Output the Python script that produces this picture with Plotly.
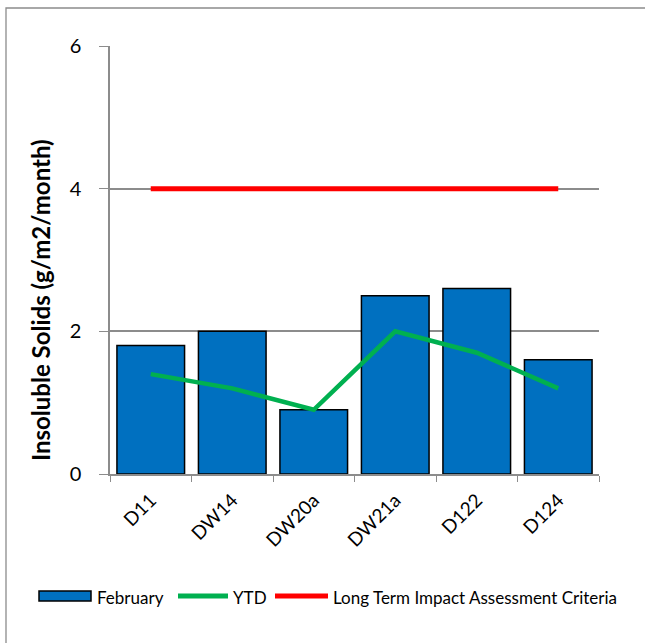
import plotly.graph_objects as go

categories = ["D11", "DW14", "DW20a", "DW21a", "D122", "D124"]
february = [1.8, 2.0, 0.9, 2.5, 2.6, 1.6]
ytd = [1.4, 1.2, 0.9, 2.0, 1.7, 1.2]
criteria = [4, 4, 4, 4, 4, 4]
y_ticks = [0, 2, 4, 6]

FONT = "Lato, 'Open Sans', sans-serif"
GRID = "#8C8C8C"
BLUE = "#0070C0"
GREEN = "#00B050"
RED = "#FF0000"

fig = go.Figure()
fig.add_trace(go.Bar(
    x=categories, y=february, name="February",
    marker=dict(color=BLUE, line=dict(color="black", width=1.5)),
    width=0.83,
))
fig.add_trace(go.Scatter(
    x=categories, y=ytd, name="YTD", mode="lines",
    line=dict(color=GREEN, width=4.5),
))
fig.add_trace(go.Scatter(
    x=categories, y=criteria, name="Long Term Impact Assessment Criteria", mode="lines",
    line=dict(color=RED, width=5),
))

W, H = 645, 643
L, R, T, B = 110, 46, 46, 169
pw, ph = W - L - R, H - T - B

def px2x(px):
    return (px - L) / pw

def py2y(py):
    return (H - B - py) / ph

shapes = [
    dict(type="rect", xref="paper", yref="paper",
         x0=px2x(6), x1=px2x(646), y0=py2y(645), y1=py2y(8),
         line=dict(color=GRID, width=1.3), layer="below"),
    # legend swatches
    dict(type="rect", xref="paper", yref="paper",
         x0=px2x(39), x1=px2x(91), y0=py2y(601), y1=py2y(591),
         fillcolor=BLUE, line=dict(color="black", width=1.5)),
    dict(type="line", xref="paper", yref="paper",
         x0=px2x(178), x1=px2x(228), y0=py2y(596), y1=py2y(596),
         line=dict(color=GREEN, width=5)),
    dict(type="line", xref="paper", yref="paper",
         x0=px2x(275), x1=px2x(328), y0=py2y(596), y1=py2y(596),
         line=dict(color=RED, width=5)),
]

legend_labels = ["February", "YTD", "Long Term Impact Assessment Criteria"]
legend_x = [95, 231, 331]
annotations = [
    dict(xref="paper", yref="paper", x=px2x(lx), y=py2y(597), text=t,
         showarrow=False, xanchor="left", yanchor="middle",
         font=dict(size=17, family=FONT, color="black"))
    for lx, t in zip(legend_x, legend_labels)
]
annotations.append(dict(
    xref="paper", yref="paper", x=px2x(40), y=py2y(300),
    text="<b>Insoluble Solids (g/m2/month)</b>", textangle=-90,
    showarrow=False, xanchor="center", yanchor="middle",
    font=dict(size=24, family=FONT, color="black")))

fig.update_layout(
    width=W, height=H,
    margin=dict(l=L, r=R, t=T, b=B),
    paper_bgcolor="white", plot_bgcolor="white",
    font=dict(family=FONT, color="black"),
    showlegend=False,
    shapes=shapes,
    annotations=annotations,
    xaxis=dict(
        type="category", tickangle=-45, tickfont=dict(size=19),
        showline=True, linecolor=GRID, linewidth=1.5,
        ticks="outside", tickson="boundaries", ticklen=6, tickcolor=GRID,
        ticklabelstandoff=6,
        showgrid=False, range=[-0.5, 5.5],
    ),
    yaxis=dict(
        range=[0, 6], tickvals=y_ticks, tickfont=dict(size=20),
        showline=True, linecolor=GRID, linewidth=1.5,
        ticks="outside", ticklen=9, tickcolor=GRID, ticklabelstandoff=14,
        showgrid=True, gridcolor=GRID, gridwidth=1.5,
        zeroline=False,
    ),
)

fig.write_html("out.html", config={"displayModeBar": False},
               post_script="document.body.style.margin='0';")
